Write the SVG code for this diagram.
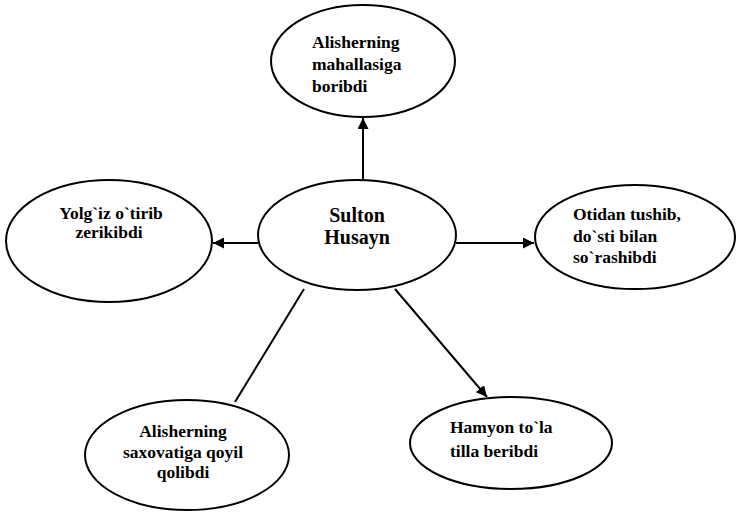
<svg xmlns="http://www.w3.org/2000/svg" width="737" height="519" viewBox="0 0 737 519">
<style>
.n{fill:#fff;stroke:#000;stroke-width:2}
.t{font-family:"Liberation Serif","Times New Roman",serif;font-weight:bold;font-size:17.5px;fill:#000}
.c{stroke:#000;stroke-width:2;fill:none}
</style>
<defs>
<marker id="ah" viewBox="0 0 10 10" refX="10" refY="5" markerWidth="11" markerHeight="11" markerUnits="userSpaceOnUse" orient="auto">
<path d="M0,0 L10,5 L0,10 z" fill="#000"/>
</marker>
</defs>
<rect width="737" height="519" fill="#fff"/>
<g id="connectors">
<line class="c" x1="363" y1="180" x2="363" y2="118" marker-end="url(#ah)"/>
<line class="c" x1="258" y1="243" x2="213" y2="243" marker-end="url(#ah)"/>
<line class="c" x1="456" y1="243" x2="534" y2="243" marker-end="url(#ah)"/>
<line class="c" x1="304" y1="289" x2="235" y2="402"/>
<line class="c" x1="395" y1="289" x2="487" y2="397" marker-end="url(#ah)"/>
</g>
<g id="center">
<ellipse class="n" cx="357" cy="235" rx="99" ry="55"/>
<text class="t" style="font-size:20px" x="357" y="222" text-anchor="middle">Sulton</text>
<text class="t" style="font-size:20px" x="357" y="244" text-anchor="middle">Husayn</text>
</g>
<g id="top">
<ellipse class="n" cx="363" cy="61" rx="92" ry="56"/>
<text class="t" x="312" y="48">Alisherning</text>
<text class="t" x="312" y="70">mahallasiga</text>
<text class="t" x="312" y="92">boribdi</text>
</g>
<g id="left">
<ellipse class="n" cx="109" cy="241" rx="103" ry="61"/>
<text class="t" x="111" y="219" text-anchor="middle">Yolg`iz o`tirib</text>
<text class="t" x="109" y="238" text-anchor="middle">zerikibdi</text>
</g>
<g id="right">
<ellipse class="n" cx="635" cy="237" rx="100" ry="52"/>
<text class="t" x="573" y="220">Otidan tushib,</text>
<text class="t" x="573" y="242">do`sti bilan</text>
<text class="t" x="573" y="263">so`rashibdi</text>
</g>
<g id="bottomleft">
<ellipse class="n" cx="187" cy="455" rx="102" ry="55"/>
<text class="t" x="183" y="437" text-anchor="middle">Alisherning</text>
<text class="t" x="183" y="458" text-anchor="middle">saxovatiga qoyil</text>
<text class="t" x="183" y="478" text-anchor="middle">qolibdi</text>
</g>
<g id="bottomright">
<ellipse class="n" cx="511" cy="443" rx="101" ry="46"/>
<text class="t" x="450" y="433">Hamyon to`la</text>
<text class="t" x="450" y="457">tilla beribdi</text>
</g>
</svg>
